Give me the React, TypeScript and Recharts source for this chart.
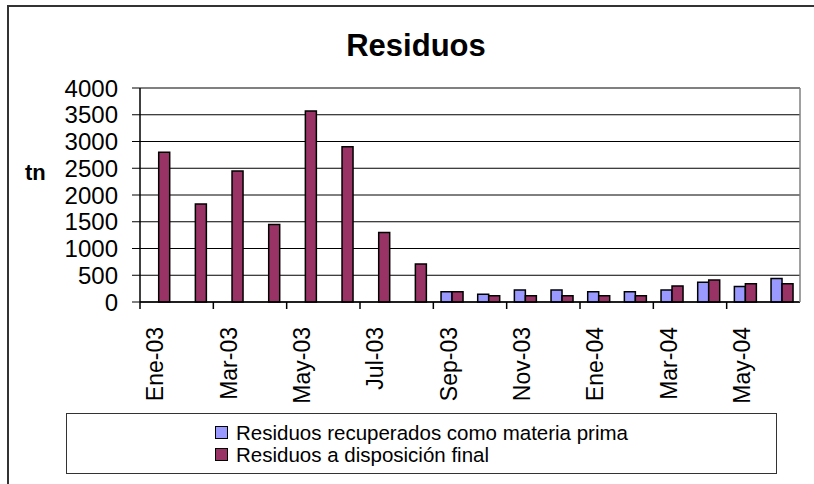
import React from 'react';
import {
  BarChart, Bar, XAxis, YAxis, CartesianGrid, ReferenceLine, Label,
} from 'recharts';

const months = [
  'Ene-03', 'Feb-03', 'Mar-03', 'Abr-03', 'May-03', 'Jun-03', 'Jul-03', 'Ago-03', 'Sep-03',
  'Oct-03', 'Nov-03', 'Dic-03', 'Ene-04', 'Feb-04', 'Mar-04', 'Abr-04', 'May-04', 'Jun-04',
];
const recuperados: (number | null)[] = [
  null, null, null, null, null, null, null, null, 190,
  145, 225, 225, 190, 190, 225, 370, 290, 440,
];
const disposicion: number[] = [
  2800, 1830, 2450, 1450, 3570, 2900, 1300, 710, 190,
  115, 115, 115, 115, 115, 300, 410, 340, 340,
];
const yTicks = [0, 500, 1000, 1500, 2000, 2500, 3000, 3500, 4000];
const seriesNames = ['Residuos recuperados como materia prima', 'Residuos a disposición final'];
const seriesColors = ['#9999FF', '#993366'];
const title = 'Residuos';
const yTitle = 'tn';

const data = months.map((m, i) => ({ month: m, rec: recuperados[i], disp: disposicion[i] }));

const FONT = '"Liberation Sans", Arial, sans-serif';

const XTick = (props: any) => {
  const { x, y, payload, index } = props;
  const half = payload && typeof payload.offset === 'number' ? payload.offset : 0;
  const idx = typeof index === 'number' ? index : payload?.index;
  const isLastShown = idx === months.length - 2;
  return (
    <g>
      <line x1={x - half} x2={x - half} y1={y} y2={y + 7} stroke="#000" strokeWidth={1.5} />
      {isLastShown && (
        <line x1={x + 3 * half} x2={x + 3 * half} y1={y} y2={y + 7} stroke="#000" strokeWidth={1.5} />
      )}
      <g transform={`translate(${x},${y})`}>
        <text transform="rotate(-90)" x={-25} y={5} textAnchor="end" fontSize={23} fontFamily={FONT} fill="#000">
          {payload.value}
        </text>
      </g>
    </g>
  );
};

const YLabel = (props: any) => {
  const { viewBox } = props;
  return (
    <text x={25} y={viewBox.y + 92} fontSize={22} fontWeight="bold" fontFamily={FONT} fill="#000">
      {yTitle}
    </text>
  );
};

export default function App() {
  return (
    <div style={{ position: 'absolute', left: 0, top: 0, width: 814, height: 484, overflow: 'hidden', background: '#fff', fontFamily: FONT }}>
      <div style={{ position: 'absolute', left: 7, top: 5, width: 900, height: 700, border: '2px solid #333' }} />
      <div style={{ position: 'absolute', left: 0, top: 0 }}>
        <BarChart
          width={814}
          height={484}
          data={data}
          margin={{ top: 88, right: 13, left: 0, bottom: 0 }}
          barCategoryGap="21%"
          barGap={0}
        >
          <CartesianGrid vertical={false} stroke="#000" strokeWidth={1} />
          <XAxis
            dataKey="month"
            interval={1}
            tickLine={false}
            axisLine={{ stroke: '#000', strokeWidth: 1.5 }}
            tickSize={0}
            tickMargin={0}
            height={182}
            tick={<XTick />}
          />
          <YAxis
            width={140}
            domain={[0, 4000]}
            ticks={yTicks}
            interval={0}
            tickSize={8}
            tickMargin={14}
            stroke="#000"
            axisLine={{ stroke: '#000', strokeWidth: 1.5 }}
            tickLine={{ stroke: '#000', strokeWidth: 1 }}
            tick={{ fontSize: 24, fill: '#000', fontFamily: FONT }}
          >
            <Label content={<YLabel />} />
          </YAxis>
          <YAxis
            yAxisId="border"
            orientation="right"
            width={1}
            domain={[0, 4000]}
            tick={false}
            tickLine={false}
            axisLine={{ stroke: '#808080', strokeWidth: 1.5 }}
          />
          <ReferenceLine y={4000} stroke="#808080" strokeWidth={1.5} />
          <Bar dataKey="rec" name={seriesNames[0]} fill={seriesColors[0]} stroke="#000" strokeWidth={1.5} isAnimationActive={false} />
          <Bar dataKey="disp" name={seriesNames[1]} fill={seriesColors[1]} stroke="#000" strokeWidth={1.5} isAnimationActive={false} />
        </BarChart>
      </div>
      <div style={{ position: 'absolute', left: 0, top: 30, width: 832, textAlign: 'center', fontSize: 31, fontWeight: 'bold', lineHeight: '32px', color: '#000' }}>
        {title}
      </div>
      <div style={{ position: 'absolute', left: 66, top: 413, width: 709, height: 59, border: '1.5px solid #333', display: 'flex', flexDirection: 'column', alignItems: 'center', justifyContent: 'center' }}>
        <div style={{ display: 'flex', flexDirection: 'column', alignItems: 'flex-start' }}>
          {seriesNames.map((n, i) => (
            <div key={n} style={{ display: 'flex', alignItems: 'center', height: 22, fontSize: 20.5, color: '#000', lineHeight: '22px' }}>
              <span style={{ display: 'inline-block', width: 13, height: 13, boxSizing: 'border-box', background: seriesColors[i], border: '1.5px solid #000', marginRight: 8 }} />
              <span>{n}</span>
            </div>
          ))}
        </div>
      </div>
    </div>
  );
}
